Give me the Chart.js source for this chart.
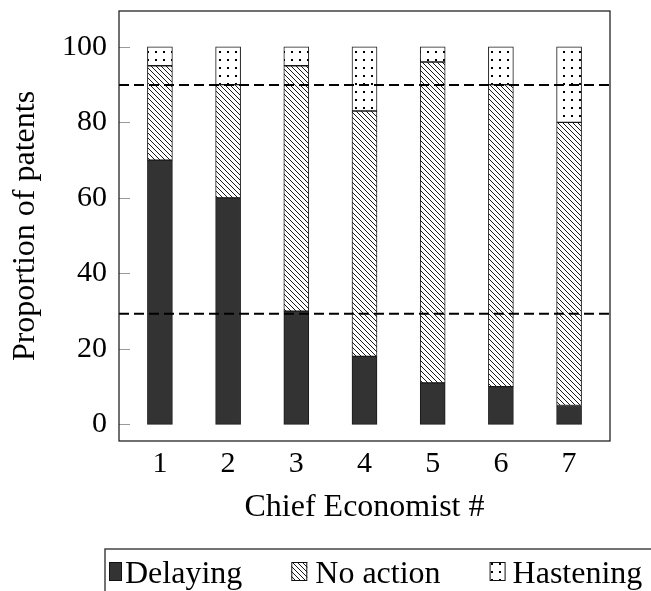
<!DOCTYPE html>
<html lang="en">
<head>
    <meta charset="UTF-8">
    <title>Proportion of patents by chief economist</title>
    <script src="https://cdn.jsdelivr.net/npm/chart.js@4.4.0/dist/chart.umd.min.js"></script>
    <style>
        body { margin: 0; background: #fff; }
    </style>
</head>
<body>
    <canvas id="chart" width="651" height="591"></canvas>

    <script>
        // values
        const economists = [1, 2, 3, 4, 5, 6, 7];
        const delaying = [70, 60, 30, 18, 11, 10, 5];
        const noAction = [25, 30, 65, 65, 85, 80, 75];
        const hastening = [5, 10, 5, 17, 4, 10, 20];
        const refLines = [89.9, 29.3];
        const yTicks = [0, 20, 40, 60, 80, 100];

        const FONT = "'Liberation Serif', 'Times New Roman', serif";

        function makePattern(size, draw) {
            const c = document.createElement('canvas');
            c.width = size; c.height = size;
            const g = c.getContext('2d');
            g.fillStyle = '#fff';
            g.fillRect(0, 0, size, size);
            draw(g, size);
            return document.getElementById('chart').getContext('2d').createPattern(c, 'repeat');
        }

        const hatch = makePattern(5, (g, s) => {
            g.strokeStyle = '#000';
            g.lineWidth = 0.9;
            g.beginPath();
            for (const off of [-s, 0, s]) {
                g.moveTo(off, 0);
                g.lineTo(off + s, s);
            }
            g.stroke();
        });

        const dots = makePattern(8, (g, s) => {
            g.fillStyle = '#000';
            g.fillRect(3, 3, 2, 2);
        });

        const dark = '#333333';

        const series = [
            { label: 'Delaying', data: delaying, fill: dark, iconW: 13, textGap: 3 },
            { label: 'No action', data: noAction, fill: hatch, iconW: 16, textGap: 8 },
            { label: 'Hastening', data: hastening, fill: dots, iconW: 16, textGap: 7 }
        ];

        function noPad(s) {
            s.paddingTop = 0; s.paddingBottom = 0;
            s.paddingLeft = 0; s.paddingRight = 0;
        }

        // box, inner y ticks, dashed reference lines and the legend
        const extras = {
            id: 'extras',
            afterDatasetsDraw(chart) {
                const ctx = chart.ctx;
                const a = chart.chartArea;
                const y = chart.scales.y;
                ctx.save();
                ctx.strokeStyle = '#000';
                ctx.lineWidth = 2;
                ctx.setLineDash([10, 5]);
                refLines.forEach(v => {
                    const py = y.getPixelForValue(v);
                    ctx.beginPath();
                    ctx.moveTo(a.left, py);
                    ctx.lineTo(a.right, py);
                    ctx.stroke();
                });
                ctx.setLineDash([]);

                ctx.strokeStyle = '#999';
                ctx.lineWidth = 1;
                yTicks.forEach(v => {
                    const py = Math.round(y.getPixelForValue(v)) + 0.5;
                    ctx.beginPath();
                    ctx.moveTo(a.left, py);
                    ctx.lineTo(a.left + 11, py);
                    ctx.stroke();
                });

                ctx.strokeStyle = '#111';
                ctx.lineWidth = 1.2;
                ctx.strokeRect(a.left, a.top, a.right - a.left, a.bottom - a.top);
                ctx.restore();
            },
            afterDraw(chart) {
                const ctx = chart.ctx;
                const left = 105;
                ctx.save();
                // legend frame, runs off the canvas like the original
                ctx.strokeStyle = '#444';
                ctx.lineWidth = 1.5;
                ctx.beginPath();
                ctx.moveTo(700, 549);
                ctx.lineTo(left, 549);
                ctx.lineTo(left, 600);
                ctx.stroke();

                ctx.font = '32px ' + FONT;
                ctx.textBaseline = 'alphabetic';
                let x = left + 4;
                series.forEach(s => {
                    ctx.fillStyle = s.fill;
                    ctx.fillRect(x, 562, s.iconW, 19);
                    ctx.strokeStyle = '#111';
                    ctx.lineWidth = 1;
                    ctx.strokeRect(x + 0.5, 562.5, s.iconW - 1, 18);
                    ctx.fillStyle = '#000';
                    const tx = x + s.iconW + s.textGap;
                    ctx.fillText(s.label, tx, 583);
                    x = tx + ctx.measureText(s.label).width + 49;
                });
                ctx.restore();
            }
        };

        const ctx = document.getElementById('chart').getContext('2d');
        new Chart(ctx, {
            type: 'bar',
            data: {
                labels: economists,
                datasets: series.map(s => ({
                    label: s.label,
                    data: s.data,
                    backgroundColor: s.fill,
                    borderColor: '#1a1a1a',
                    borderWidth: 1,
                    borderSkipped: false,
                    barThickness: 25
                }))
            },
            options: {
                responsive: false,
                animation: false,
                layout: { padding: { left: 0, right: 41, top: 11, bottom: 60 } },
                plugins: {
                    legend: { display: false },
                    tooltip: { enabled: false }
                },
                scales: {
                    x: {
                        type: 'linear',
                        stacked: true,
                        offset: false,
                        min: 0.4,
                        max: 7.6,
                        afterBuildTicks: s => { s.ticks = economists.map(v => ({ value: v })); },
                        afterFit: s => { s.height = 90; noPad(s); },
                        grid: { display: false, drawTicks: false },
                        border: { display: false },
                        ticks: { color: '#000', font: { family: FONT, size: 30 }, padding: 5, maxRotation: 0 },
                        title: {
                            display: true,
                            text: 'Chief Economist #',
                            color: '#000',
                            font: { family: FONT, size: 32 },
                            padding: { top: 0, bottom: 4 }
                        }
                    },
                    y: {
                        stacked: true,
                        min: -4.4,
                        max: 109.5,
                        afterBuildTicks: s => { s.ticks = yTicks.map(v => ({ value: v })); },
                        afterFit: s => { s.width = 119; noPad(s); },
                        grid: { display: false, drawTicks: false },
                        border: { display: false },
                        ticks: { color: '#000', font: { family: FONT, size: 30 }, padding: 12 },
                        title: {
                            display: true,
                            text: 'Proportion of patents',
                            color: '#000',
                            font: { family: FONT, size: 32 },
                            padding: { top: 6, bottom: 0 }
                        }
                    }
                }
            },
            plugins: [extras]
        });
    </script>
</body>
</html>
